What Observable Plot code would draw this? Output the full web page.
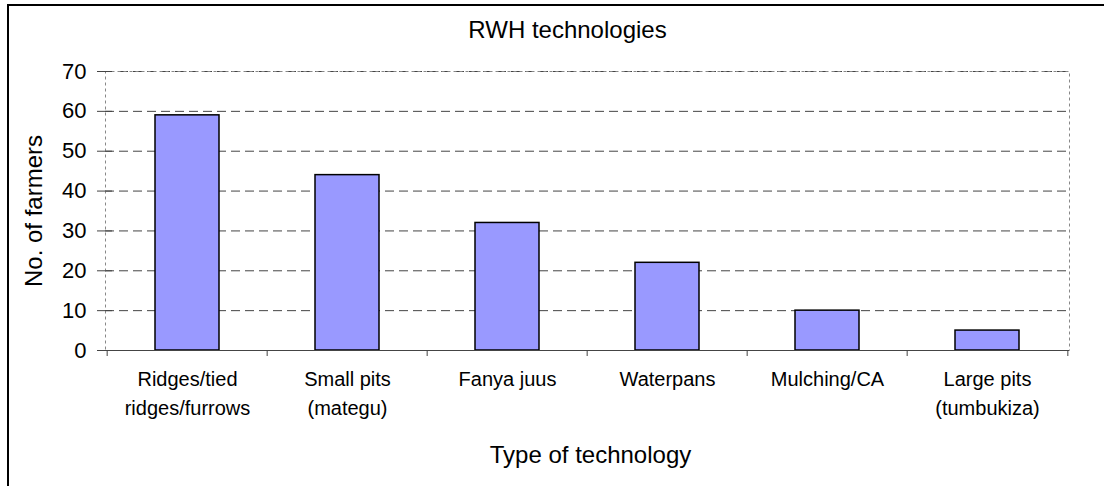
<!DOCTYPE html>
<html>
<head>
<meta charset="utf-8">
<script src="https://cdn.jsdelivr.net/npm/d3@7"></script>
<script src="https://cdn.jsdelivr.net/npm/@observablehq/plot@0.6"></script>
<style>
  html, body { margin: 0; padding: 0; background: #fff; }
  #wrap { position: relative; width: 1104px; height: 486px; overflow: hidden; }
  #border { position: absolute; left: 7px; top: 4px; width: 1200px; height: 600px; border: 2px solid #000; box-sizing: border-box; pointer-events: none; }
</style>
</head>
<body>
<div id="wrap"><div id="border"></div></div>
<script>
const categories = ["Ridges/tied\nridges/furrows", "Small pits\n(mategu)", "Fanya juus", "Waterpans", "Mulching/CA", "Large pits\n(tumbukiza)"];
const farmers = [59, 44, 32, 22, 10, 5];
const yTicks = [0, 10, 20, 30, 40, 50, 60, 70];
const titleText = "RWH technologies";
const xTitle = "Type of technology";
const yTitle = "No. of farmers";

const W = 1104, H = 486, mL = 105, mR = 35, mT = 71, mB = 136;
const step = (W - mL - mR) / categories.length;
const data = categories.map((c, i) => ({c, v: farmers[i]}));
const font = "Liberation Sans, Arial, sans-serif";

const chart = Plot.plot({
  width: W, height: H,
  marginLeft: mL, marginRight: mR, marginTop: mT, marginBottom: mB,
  style: {fontFamily: font, background: "transparent", color: "#000"},
  x: {domain: categories, paddingInner: 0.6, paddingOuter: 0.3, label: null},
  y: {domain: [0, 70], label: null},
  marks: [
    Plot.ruleY(yTicks.filter(d => d > 0), {stroke: "#444", strokeDasharray: "9,5"}),
    Plot.frame({stroke: "#888", strokeDasharray: "3,3"}),
    Plot.barY(data, {x: "c", y: "v", fill: "#9999FF", stroke: "#000", strokeWidth: 1.5}),
    Plot.ruleY([0], {stroke: "#444"}),
    Plot.axisY({ticks: yTicks, tickSize: 15, dx: 7, tickFormat: () => "", stroke: "#444", label: null}),
    Plot.axisY({ticks: yTicks, tickSize: 0, tickPadding: 19, fontSize: 22, line: true, stroke: "#444", label: null}),
    Plot.axisX({tickSize: 6, tickFormat: () => "", dx: -step / 2, stroke: "#444", label: null}),
    Plot.axisX({ticks: [categories[categories.length - 1]], tickSize: 6, tickFormat: () => "", dx: step / 2, stroke: "#444", label: null}),
    Plot.axisX({tickSize: 0, tickPadding: 15, fontSize: 20, lineHeight: 1.45, label: null}),
    Plot.text([titleText], {frameAnchor: "top", lineAnchor: "middle", dx: -20, dy: -41, fontSize: 24}),
    Plot.text([xTitle], {frameAnchor: "bottom", lineAnchor: "middle", dx: 3, dy: 105, fontSize: 24}),
    Plot.text([yTitle], {frameAnchor: "left", lineAnchor: "middle", textAnchor: "middle", dx: -71, rotate: -90, fontSize: 24})
  ]
});
document.getElementById("wrap").prepend(chart);
</script>
</body>
</html>
